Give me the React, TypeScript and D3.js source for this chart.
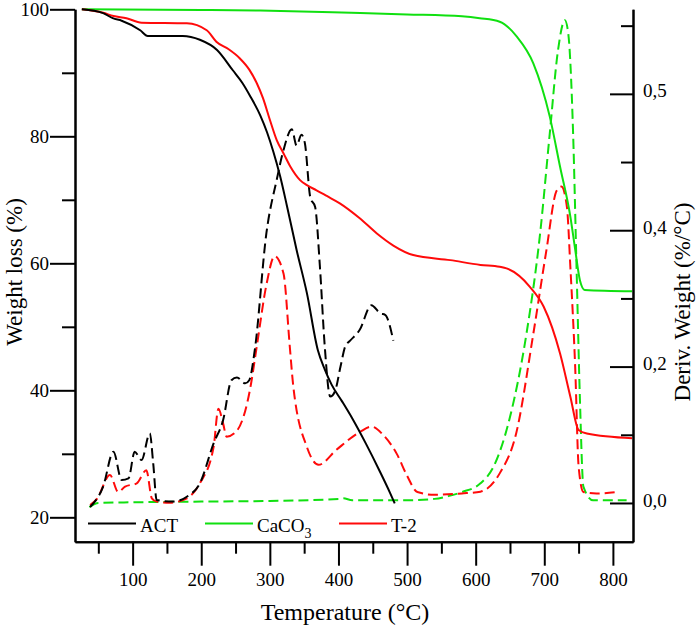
import { useEffect, useRef } from 'react';
import * as d3 from 'd3';

// TGA weight loss (%) vs temperature (°C)
const actT = [26, 57, 71, 84, 111, 122, 173, 198, 223, 246, 260, 272, 286, 296, 305, 315, 325, 339, 354, 370, 380, 390, 405, 420, 440, 460, 475, 482];
const actW = [100, 99.4, 98.6, 98.2, 96.7, 95.8, 95.8, 95.2, 93.6, 90.4, 88.4, 86.2, 83.3, 80.6, 77.6, 73.7, 69.0, 62.1, 55.3, 46.3, 43.3, 40.9, 38.3, 35.6, 31.6, 27.3, 23.9, 22.2];

const caco3T = [26, 200, 286, 432, 500, 580, 606, 635, 660, 684, 708, 723, 738, 745, 752, 759, 828];
const caco3W = [100, 99.9, 99.8, 99.4, 99.2, 98.9, 98.6, 98.05, 95.7, 91.5, 83.1, 75.2, 67.35, 62.2, 57.3, 55.8, 55.6];

const t2T = [26, 57, 72, 91, 113, 179, 208, 222, 240, 256, 270, 281, 290, 300, 310, 320, 330, 344, 354, 368, 383, 402, 431, 456, 480, 509, 563, 607, 635, 645, 679, 699, 723, 738, 750, 762, 828];
const t2W = [100, 99.45, 98.95, 98.6, 97.9, 97.8, 96.7, 94.9, 93.7, 92.3, 90.5, 88.35, 86.0, 82.6, 79.4, 77.3, 75.2, 73.1, 72.3, 71.5, 70.6, 69.45, 67.1, 64.7, 62.8, 61.3, 60.5, 59.75, 59.45, 59.2, 56.3, 53.2, 45.8, 39.0, 33.75, 33.2, 32.45];

// DTG derivative weight (%/°C)
const actDT = [38, 57, 72, 84, 94, 103, 113, 125, 130, 135, 159, 179, 198, 218, 232, 244, 252, 264, 270, 278, 295, 310, 320, 332, 339, 346, 351, 359, 366, 373, 380, 388, 395, 403, 410, 417, 431, 448, 461, 468, 480];
const actD = [-0.003, 0.012, 0.0376, 0.0168, 0.018, 0.0376, 0.0315, 0.051, 0.029, 0.0022, 0.001, 0.0046, 0.0144, 0.0437, 0.061, 0.09, 0.092, 0.0877, 0.09, 0.112, 0.198, 0.237, 0.259, 0.274, 0.262, 0.27, 0.264, 0.224, 0.217, 0.173, 0.115, 0.078, 0.082, 0.1, 0.115, 0.119, 0.127, 0.145, 0.139, 0.138, 0.119];

const caco3DT = [37, 50, 100, 200, 300, 400, 407, 420, 500, 540, 560, 580, 607, 626, 650, 674, 694, 708, 720, 730, 735, 742, 747, 752, 757, 771, 820];
const caco3D = [-0.003, 0.0, 0.0005, 0.001, 0.0015, 0.003, 0.0034, 0.002, 0.002, 0.003, 0.005, 0.008, 0.0144, 0.0266, 0.063, 0.124, 0.198, 0.271, 0.332, 0.354, 0.344, 0.271, 0.173, 0.075, 0.012, 0.002, 0.002];

const t2DT = [38, 48, 67, 79, 89, 106, 120, 128, 135, 154, 179, 198, 218, 225, 232, 237, 252, 271, 281, 295, 307, 320, 329, 334, 354, 371, 397, 431, 448, 465, 485, 500, 515, 540, 580, 607, 635, 659, 684, 703, 718, 725, 733, 738, 745, 750, 757, 776, 806];
const t2D = [-0.0015, 0.003, 0.0205, 0.008, 0.012, 0.0144, 0.024, 0.0034, 0.001, 0.0002, 0.0034, 0.0144, 0.041, 0.069, 0.058, 0.0486, 0.053, 0.083, 0.115, 0.16, 0.181, 0.168, 0.115, 0.0864, 0.041, 0.028, 0.039, 0.052, 0.056, 0.05, 0.036, 0.02, 0.008, 0.006, 0.007, 0.0083, 0.0217, 0.051, 0.124, 0.185, 0.229, 0.232, 0.217, 0.173, 0.1, 0.027, 0.008, 0.007, 0.008];

// axis ticks
const xMajor = [100, 200, 300, 400, 500, 600, 700, 800];
const xMinor = [50, 150, 250, 350, 450, 550, 650, 750];
const yMajor = [20, 40, 60, 80, 100];
const yMinor = [30, 50, 70, 90];
const dMajor = [0, 0.1, 0.2, 0.3];
const dMajorLabels = ['0,0', '0,2', '0,4', '0,5'];
const dMinor = [0.05, 0.15, 0.25, 0.35];

const legendNames = ['ACT', 'CaCO', 'T-2'];

const BLACK = '#000000';
const GREEN = '#10e010';
const RED = '#ff0a0a';
const FONT = '"Liberation Serif", "Times New Roman", serif';

export default function App() {
    const ref = useRef<SVGSVGElement | null>(null);

    useEffect(() => {
        const width = 700;
        const height = 629;
        const left = 75, right = 633, top = 9.3, bottom = 541.7;

        const svg = d3.select(ref.current);
        svg.selectAll('*').remove();
        svg.attr('viewBox', `0 0 ${width} ${height}`);

        const x = d3.scaleLinear().domain([16, 829.3]).range([left, right]);
        const yW = d3.scaleLinear().domain([16.16, 100]).range([bottom, top]);
        const yD = d3.scaleLinear().domain([-0.0284, 0.362]).range([bottom, top]);

        const lineOf = (xs: number[], ys: number[], y: d3.ScaleLinear<number, number>) =>
            d3.line<number>()
                .x((_, i) => x(xs[i]))
                .y((d) => y(d))
                .curve(d3.curveMonotoneX)(ys);

        // dashed derivative curves
        const dtg: [number[], number[], string][] = [
            [caco3DT, caco3D, GREEN],
            [t2DT, t2D, RED],
            [actDT, actD, BLACK],
        ];
        dtg.forEach(([xs, ys, c]) => {
            svg.append('path')
                .attr('d', lineOf(xs, ys, yD)!)
                .attr('fill', 'none')
                .attr('stroke', c)
                .attr('stroke-width', 2)
                .attr('stroke-dasharray', '10,5');
        });

        // solid weight curves
        const tga: [number[], number[], string][] = [
            [caco3T, caco3W, GREEN],
            [t2T, t2W, RED],
            [actT, actW, BLACK],
        ];
        tga.forEach(([xs, ys, c]) => {
            svg.append('path')
                .attr('d', lineOf(xs, ys, yW)!)
                .attr('fill', 'none')
                .attr('stroke', c)
                .attr('stroke-width', 2);
        });

        const styleAxis = (g: d3.Selection<SVGGElement, unknown, null, undefined>) => {
            g.attr('font-family', FONT).attr('font-size', 19);
            g.selectAll('path, line').attr('stroke', '#000').attr('stroke-width', 2);
            g.selectAll('text').attr('fill', '#000');
        };

        // bottom axis
        svg.append('g')
            .attr('transform', `translate(0,${bottom})`)
            .call(d3.axisBottom(x).tickValues(xMinor).tickSize(12).tickSizeOuter(0).tickFormat(() => ''))
            .call(styleAxis);
        svg.append('g')
            .attr('transform', `translate(0,${bottom})`)
            .call(d3.axisBottom(x).tickValues(xMajor).tickSize(24).tickSizeOuter(0).tickPadding(7).tickFormat(d3.format('d')))
            .call(styleAxis);

        // left axis
        svg.append('g')
            .attr('transform', `translate(${left},0)`)
            .call(d3.axisLeft(yW).tickValues(yMinor).tickSize(13).tickSizeOuter(0).tickFormat(() => ''))
            .call(styleAxis);
        svg.append('g')
            .attr('transform', `translate(${left},0)`)
            .call(d3.axisLeft(yW).tickValues(yMajor).tickSize(25).tickSizeOuter(0).tickPadding(1).tickFormat(d3.format('d')))
            .call(styleAxis);

        // right axis, ticks pointing into the plot
        svg.append('g')
            .attr('transform', `translate(${right},0)`)
            .call(d3.axisRight(yD).tickValues(dMinor).tickSizeInner(-12).tickSizeOuter(0).tickFormat(() => ''))
            .call(styleAxis);
        const rAxis = svg.append('g')
            .attr('transform', `translate(${right},0)`)
            .call(d3.axisRight(yD).tickValues(dMajor).tickSizeInner(-23).tickSizeOuter(0).tickPadding(10)
                .tickFormat((_, i) => dMajorLabels[i]))
            .call(styleAxis);
        rAxis.selectAll('text').attr('dy', '0.16em');

        // axis titles
        svg.append('text')
            .attr('x', 345)
            .attr('y', 620)
            .attr('text-anchor', 'middle')
            .attr('font-family', FONT)
            .attr('font-size', 24)
            .text('Temperature (°C)');

        svg.append('text')
            .attr('transform', 'translate(22,272) rotate(-90)')
            .attr('text-anchor', 'middle')
            .attr('font-family', FONT)
            .attr('font-size', 23)
            .text('Weight loss (%)');

        svg.append('text')
            .attr('transform', 'translate(690,302) rotate(-90)')
            .attr('text-anchor', 'middle')
            .attr('font-family', FONT)
            .attr('font-size', 23)
            .text('Deriv. Weight (%/°C)');

        // legend
        const legendX = [88, 205, 339];
        const legendColors = [BLACK, GREEN, RED];
        const legend = svg.append('g').attr('transform', 'translate(0,523.5)');
        const items = legend.selectAll('g.item')
            .data(legendNames)
            .enter()
            .append('g')
            .attr('class', 'item')
            .attr('transform', (_, i) => `translate(${legendX[i]},0)`);
        items.append('line')
            .attr('x1', 0)
            .attr('x2', 48)
            .attr('stroke', (_, i) => legendColors[i])
            .attr('stroke-width', 2);
        const labels = items.append('text')
            .attr('x', 52)
            .attr('y', 8)
            .attr('font-family', FONT)
            .attr('font-size', 19)
            .text((d) => d);
        labels.filter((d) => d === 'CaCO')
            .append('tspan')
            .attr('font-size', 14)
            .attr('dy', 6)
            .text('3');
    }, []);

    return (
        <svg
            ref={ref}
            width={700}
            height={629}
            style={{ position: 'absolute', left: 0, top: 0, background: '#fff' }}
        />
    );
}
